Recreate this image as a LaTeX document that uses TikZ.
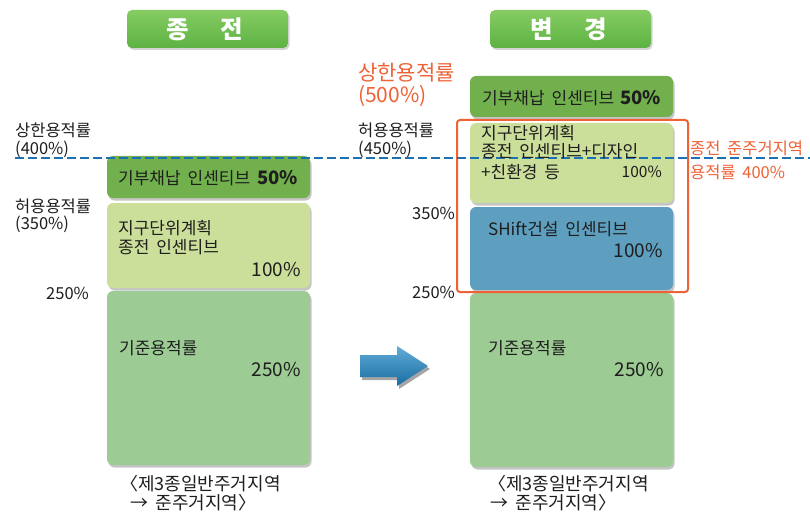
\documentclass[tikz,border=0pt]{standalone}
\usepackage{fontspec}
\setmainfont[WordSpace=1.8]{Noto Sans CJK KR}
\usetikzlibrary{shadows}
\definecolor{titleg}{HTML}{5DB243}
\definecolor{titlegl}{HTML}{86CC62}
\definecolor{dgreen}{HTML}{72B04E}
\definecolor{ygreen}{HTML}{CCDF9A}
\definecolor{lgreen}{HTML}{9CCB93}
\definecolor{sblue}{HTML}{5E9FC0}
\definecolor{orng}{HTML}{EE6236}
\definecolor{dblue}{HTML}{1A72B4}
\definecolor{ablue}{HTML}{1E88C8}
\definecolor{txt}{HTML}{1E1E1E}
\begin{document}
\begin{tikzpicture}[x=1pt,y=-1pt,
  titlebox/.style={rounded corners=5pt,top color=titlegl,bottom color=titleg,
    drop shadow={shadow xshift=1.5pt,shadow yshift=-2pt,opacity=0.35}},
  blk/.style={rounded corners=6pt,
    drop shadow={shadow xshift=1.5pt,shadow yshift=-2.5pt,opacity=0.45}},
  lbl/.style={anchor=west,inner sep=0pt,font=\fontsize{16.5}{18}\selectfont,text=txt},
  blbl/.style={anchor=west,inner sep=0pt,font=\fontsize{17}{19}\selectfont,text=txt},
  pct/.style={anchor=east,inner sep=0pt,font=\fontsize{19}{21}\selectfont,text=txt},
  olbl/.style={anchor=west,inner sep=0pt,font=\fontsize{16.5}{19}\selectfont,text=orng},
  bot/.style={anchor=west,inner sep=0pt,font=\fontsize{18}{20}\selectfont,text=txt},
  ttl/.style={inner sep=0pt,text=white,font=\fontsize{24.5}{26}\selectfont\bfseries},
]
\useasboundingbox (0,0) rectangle (810,513);
\fill[white] (0,0) rectangle (810,513);

% titles
\path[titlebox] (127,10) rectangle (288,48);
\node[ttl] (t1) at (205,29) {종\hspace{1.3em}전};
\path[titlebox] (490,10) rectangle (651,48);
\node[ttl] (t2) at (568.5,29) {변\hspace{1.3em}경};

% left column
\path[blk,fill=lgreen] (107,291) rectangle (310,465);
\path[blk,fill=ygreen] (107,203) rectangle (310,288);
\path[blk,fill=dgreen] (107,156) rectangle (310,198);

% right column
\path[blk,fill=lgreen] (470,293) rectangle (673,467);
\path[blk,fill=sblue] (470,207) rectangle (673,290);
\path[blk,fill=ygreen] (470,123) rectangle (673,203);
\path[blk,fill=dgreen] (470,76) rectangle (673,117);

% orange frame
\draw[orng,line width=2pt,rounded corners=3pt] (457,120) rectangle (688,292);

% dashed line
\draw[dblue,line width=2.7pt,dash pattern=on 9pt off 4pt] (15,158) -- (810,158);

% left box texts
\node[blbl] (l1) at (118,178) {기부채납 인센티브};
\node[pct,font=\fontsize{18.5}{20}\selectfont\bfseries] (l1p) at (298,178) {50\%};
\node[blbl] (l2a) at (118,228) {지구단위계획};
\node[blbl] (l2b) at (118,247) {종전 인센티브};
\node[pct] (l2p) at (301,270) {100\%};
\node[blbl] (l3) at (119,348) {기준용적률};
\node[pct] (l3p) at (301,370) {250\%};

% right box texts
\node[blbl] (r1) at (482,98) {기부채납 인센티브};
\node[pct,font=\fontsize{18.5}{20}\selectfont\bfseries] (r1p) at (661,98) {50\%};
\node[blbl] (r2a) at (481,133) {지구단위계획};
\node[blbl] (r2b) at (481,151) {종전 인센티브+디자인};
\node[blbl] (r2c) at (481,172) {+친환경 등};
\node[pct,font=\fontsize{15.5}{17}\selectfont] (r2p) at (662,172) {100\%};
\node[blbl] (r3) at (488,229) {SHift건설 인센티브};
\node[pct] (r3p) at (663,251) {100\%};
\node[blbl] (r4) at (488,348) {기준용적률};
\node[pct] (r4p) at (664,370) {250\%};

% side labels left
\node[lbl] (a1) at (15,130) {상한용적률};
\node[lbl] (a2) at (15,149) {(400\%)};
\node[lbl] (b1) at (15,206) {허용용적률};
\node[lbl] (b2) at (15,224) {(350\%)};
\node[lbl] (c1) at (46,293) {250\%};

% middle labels
\node[olbl,font=\fontsize{21}{23}\selectfont] (d1) at (358,73) {상한용적률};
\node[olbl,font=\fontsize{21}{23}\selectfont] (d2) at (358,96) {(500\%)};
\node[lbl] (e1) at (358,130) {허용용적률};
\node[lbl] (e2) at (358,149) {(450\%)};
\node[lbl] (f1) at (412,213) {350\%};
\node[lbl] (f2) at (412,292) {250\%};

% right labels
\node[olbl] (g1) at (690,148) {종전 준주거지역};
\node[olbl] (g2) at (690,172) {용적률 400\%};

% bottom texts
\node[bot] (h1) at (120,484) {〈제3종일반주거지역};
\node[bot] (h2) at (130,503) {→ 준주거지역〉};
\node[bot] (i1) at (488,484) {〈제3종일반주거지역};
\node[bot] (i2) at (490,503) {→ 준주거지역〉};

% big arrow
\fill[black!70,opacity=0.5] (362,358) -- (399,358) -- (399,349) -- (430,369) -- (399,389) -- (399,380) -- (362,380) -- cycle;
\shade[top color=ablue!70!white,bottom color=ablue!80!black] (360,355) -- (397,355) -- (397,346) -- (428,366) -- (397,386) -- (397,377) -- (360,377) -- cycle;
\end{tikzpicture}
\end{document}
